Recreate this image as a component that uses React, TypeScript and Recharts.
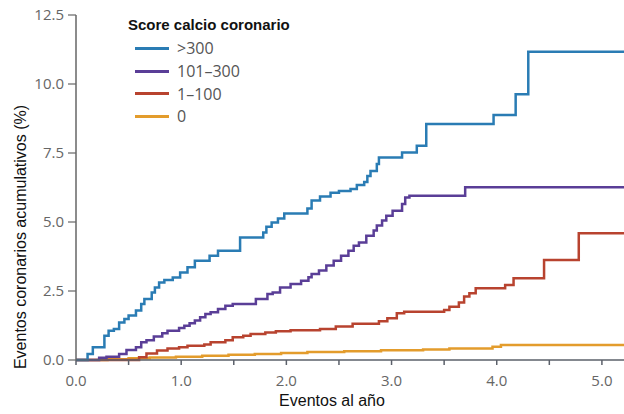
import { LineChart, Line, XAxis, YAxis, Legend } from "recharts";

// Kaplan-Meier style cumulative curves as [year, %]
const over300: [number, number][] = [
  [0, 0], [0.11, 0.22], [0.16, 0.46], [0.27, 0.88], [0.31, 1.06], [0.36, 1.12],
  [0.41, 1.36], [0.46, 1.49], [0.5, 1.61], [0.57, 1.79], [0.62, 2.03], [0.65, 2.21],
  [0.72, 2.45], [0.75, 2.63], [0.79, 2.81], [0.84, 2.9], [0.92, 2.99], [0.99, 3.17],
  [1.06, 3.36], [1.13, 3.6], [1.27, 3.78], [1.35, 3.96], [1.56, 4.44], [1.78, 4.62],
  [1.81, 4.83], [1.86, 4.98], [1.92, 5.13], [1.98, 5.31], [2.2, 5.49], [2.24, 5.78],
  [2.32, 5.92], [2.42, 6.06], [2.5, 6.12], [2.61, 6.2], [2.67, 6.34], [2.74, 6.45],
  [2.77, 6.67], [2.8, 6.85], [2.86, 7.1], [2.88, 7.34], [3.1, 7.52], [3.24, 7.76],
  [3.33, 8.55], [3.97, 8.88], [4.18, 9.63], [4.3, 11.17], [5.21, 11.17],
];
const from101to300: [number, number][] = [
  [0, 0], [0.22, 0.08], [0.29, 0.12], [0.41, 0.22], [0.48, 0.36], [0.57, 0.46],
  [0.62, 0.64], [0.67, 0.72], [0.74, 0.85], [0.82, 0.97], [0.87, 1.06], [0.98, 1.16],
  [1.03, 1.24], [1.08, 1.33], [1.13, 1.43], [1.18, 1.55], [1.23, 1.67], [1.28, 1.73],
  [1.35, 1.85], [1.42, 1.97], [1.49, 2.03], [1.71, 2.21], [1.82, 2.39], [1.87, 2.45],
  [1.94, 2.63], [2.04, 2.75], [2.14, 2.87], [2.21, 3.0], [2.24, 3.12], [2.31, 3.24],
  [2.38, 3.42], [2.45, 3.6], [2.52, 3.78], [2.59, 3.96], [2.64, 4.14], [2.69, 4.26],
  [2.76, 4.5], [2.83, 4.69], [2.86, 4.87], [2.91, 5.05], [2.95, 5.23], [3.01, 5.41],
  [3.1, 5.65], [3.13, 5.89], [3.17, 5.95], [3.7, 6.26], [5.21, 6.26],
];
const from1to100: [number, number][] = [
  [0, 0], [0.6, 0.1], [0.67, 0.24], [0.77, 0.34], [0.87, 0.42], [0.98, 0.46],
  [1.06, 0.52], [1.22, 0.56], [1.28, 0.64], [1.42, 0.72], [1.49, 0.82], [1.59, 0.88],
  [1.66, 0.94], [1.8, 1.0], [1.9, 1.04], [2.04, 1.08], [2.32, 1.12], [2.47, 1.21],
  [2.63, 1.31], [2.88, 1.4], [2.96, 1.51], [3.05, 1.69], [3.12, 1.75], [3.5, 1.81],
  [3.55, 1.93], [3.64, 2.08], [3.69, 2.3], [3.74, 2.42], [3.8, 2.6], [4.08, 2.72],
  [4.16, 2.96], [4.45, 3.62], [4.78, 4.59], [5.21, 4.59],
];
const zero: [number, number][] = [
  [0, 0], [0.3, 0.03], [0.5, 0.06], [0.7, 0.09], [0.95, 0.12], [1.2, 0.15],
  [1.45, 0.19], [1.7, 0.22], [1.95, 0.25], [2.2, 0.29], [2.55, 0.32], [2.9, 0.35],
  [3.3, 0.38], [3.55, 0.42], [3.96, 0.48], [4.04, 0.54], [5.21, 0.54],
];

const xTicks = [0, 0.5, 1, 1.5, 2, 2.5, 3, 3.5, 4, 4.5, 5];
const yTicks = [0, 2.5, 5, 7.5, 10, 12.5];

const series = [
  { name: ">300", color: "#2a7cb4", points: over300 },
  { name: "101–300", color: "#5a3e97", points: from101to300 },
  { name: "1–100", color: "#b8432f", points: from1to100 },
  { name: "0", color: "#e39c2c", points: zero },
];

const TICK_FONT = "'Open Sans', 'DejaVu Sans', sans-serif";
const TITLE_FONT = "'Liberation Sans', Arial, sans-serif";

function CacLegend() {
  return (
    <div style={{ fontFamily: TICK_FONT, fontSize: 16, color: "#555" }}>
      <div
        style={{
          fontFamily: TITLE_FONT,
          fontWeight: "bold",
          fontSize: 15,
          lineHeight: "18px",
          color: "#111",
          marginBottom: 3,
        }}
      >
        Score calcio coronario
      </div>
      {series.map((s) => (
        <div key={s.name} style={{ display: "flex", alignItems: "center", height: 22.7 }}>
          <span
            style={{ display: "inline-block", width: 34, height: 3, background: s.color, marginLeft: 7, marginRight: 8 }}
          />
          <span>{s.name}</span>
        </div>
      ))}
    </div>
  );
}

const yTitle = () => (
  <text
    x={20}
    y={237}
    transform="rotate(-90 20 237)"
    textAnchor="middle"
    dominantBaseline="central"
    fontFamily={TITLE_FONT}
    fontSize={16}
    fill="#111"
  >
    Eventos coronarios acumulativos (%)
  </text>
);

const xTitle = () => (
  <text x={332} y={406} textAnchor="middle" fontFamily={TITLE_FONT} fontSize={16} fill="#111">
    Eventos al año
  </text>
);

export default function App() {
  return (
    <div style={{ position: "absolute", left: 0, top: 0, background: "#fff" }}>
      <LineChart width={624} height={414} margin={{ top: 15, right: 0, bottom: 0, left: 0 }}>
        <XAxis
          type="number"
          dataKey="x"
          domain={[0, 5.21]}
          ticks={xTicks}
          allowDataOverflow
          tickFormatter={(v: number) => (Math.round(v * 10) % 10 === 0 ? v.toFixed(1) : "")}
          tick={{ fill: "#666", fontSize: 15, fontFamily: TICK_FONT }}
          tickSize={5}
          tickMargin={10}
          height={54}
          axisLine={{ stroke: "#5b606a", strokeWidth: 1.5 }}
          tickLine={{ stroke: "#5b606a", strokeWidth: 1.5 }}
          label={{ content: xTitle }}
        />
        <YAxis
          type="number"
          domain={[0, 12.5]}
          ticks={yTicks}
          tickFormatter={(v: number) => v.toFixed(1)}
          tick={{ fill: "#666", fontSize: 15, fontFamily: TICK_FONT }}
          tickSize={8}
          tickMargin={4}
          width={76}
          axisLine={{ stroke: "#666", strokeWidth: 1.5 }}
          tickLine={{ stroke: "#666", strokeWidth: 1.2 }}
          label={{ content: yTitle }}
        />
        <Legend
          layout="horizontal"
          verticalAlign="middle"
          align="center"
          content={() => <CacLegend />}
          wrapperStyle={{ left: 128, top: 16, width: 220, height: 110 }}
        />
        {[...series].reverse().map((s) => (
          <Line
            key={s.name}
            name={s.name}
            data={s.points.map(([x, y]) => ({ x, y }))}
            dataKey="y"
            type="stepAfter"
            stroke={s.color}
            strokeWidth={2.5}
            dot={false}
            activeDot={false}
            isAnimationActive={false}
          />
        ))}
      </LineChart>
    </div>
  );
}
